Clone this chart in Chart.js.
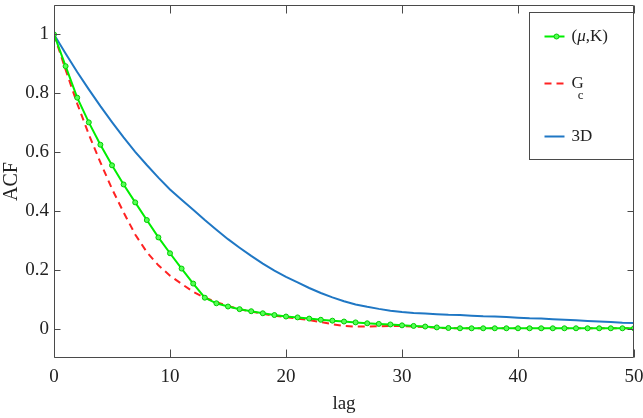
<!DOCTYPE html>
<html>
<head>
<meta charset="utf-8">
<script src="https://cdn.jsdelivr.net/npm/chart.js@4.4.0/dist/chart.umd.min.js"></script>
<style>
    html, body { margin: 0; padding: 0; background: #ffffff; }
    #wrap { width: 643px; height: 418px; }
</style>
</head>
<body>
<div id="wrap"><canvas id="acfChart"></canvas></div>
<script>
// lag values (x axis)
const lags = [0, 1, 2, 3, 4, 5, 6, 7, 8, 9, 10, 11, 12, 13, 14, 15, 16, 17, 18, 19, 20,
    21, 22, 23, 24, 25, 26, 27, 28, 29, 30, 31, 32, 33, 34, 35, 36, 37, 38, 39, 40,
    41, 42, 43, 44, 45, 46, 47, 48, 49, 50];

// ACF of (mu,K) model
const acfMuK = [1, 0.892, 0.785, 0.701, 0.625, 0.555, 0.490, 0.429, 0.369, 0.310, 0.256,
    0.204, 0.153, 0.105, 0.086, 0.075, 0.066, 0.059, 0.052, 0.046, 0.041,
    0.038, 0.034, 0.030, 0.027, 0.024, 0.021, 0.018, 0.016, 0.014, 0.011,
    0.009, 0.007, 0.004, 0.002, 0.001, 0.001, 0.001, 0.001, 0.001, 0.001,
    0.001, 0.001, 0.001, 0.001, 0.001, 0.001, 0.001, 0.001, 0.001, 0.001];

// ACF of Gc
const acfGc = [1, 0.880, 0.765, 0.660, 0.565, 0.475, 0.395, 0.320, 0.260, 0.215, 0.180,
    0.152, 0.125, 0.105, 0.090, 0.077, 0.066, 0.058, 0.050, 0.044, 0.039,
    0.034, 0.029, 0.022, 0.015, 0.009, 0.007, 0.007, 0.008, 0.009, 0.009,
    0.007, 0.005, 0.003, 0.001, 0.001, 0.001, 0.001, 0.001, 0.001, 0.001,
    0.001, 0.001, 0.001, 0.001, 0.001, 0.001, 0.001, 0.001, 0.001, 0.001];

// ACF of 3D
const acf3D = [1, 0.935, 0.872, 0.813, 0.756, 0.702, 0.650, 0.601, 0.556, 0.513, 0.473,
    0.438, 0.404, 0.369, 0.336, 0.304, 0.275, 0.247, 0.221, 0.197, 0.176,
    0.157, 0.138, 0.121, 0.106, 0.093, 0.082, 0.074, 0.067, 0.061, 0.056,
    0.053, 0.051, 0.049, 0.047, 0.046, 0.044, 0.042, 0.041, 0.039, 0.037,
    0.035, 0.034, 0.032, 0.030, 0.028, 0.026, 0.024, 0.022, 0.020, 0.019];

const seriesLabels = ['(μ,K)', 'G_c', '3D'];
const xTicks = [0, 10, 20, 30, 40, 50];
const yTicks = [0, 0.2, 0.4, 0.6, 0.8, 1];

const serif = "'Liberation Serif', 'DejaVu Serif', serif";
const axisColor = '#4a4a4a';
const textColor = '#222222';

function toPoints(values) {
    return lags.map((lag, i) => ({ x: lag, y: values[i] }));
}

// draws a label with italic mu and "_" subscripts
function drawRichLabel(ctx, label, x, y) {
    let cx = x;
    let i = 0;
    ctx.textBaseline = 'middle';
    ctx.textAlign = 'left';
    while (i < label.length) {
        const ch = label[i];
        if (ch === '_') {
            ctx.font = '13px ' + serif;
            ctx.fillText(label[i + 1], cx - 6, y + 12);
            i += 2;
            continue;
        }
        ctx.font = (ch === 'μ' ? 'italic ' : '') + '17px ' + serif;
        ctx.fillText(ch, cx, y);
        cx += ctx.measureText(ch).width;
        i++;
    }
}

const matlabAxes = {
    id: 'matlabAxes',
    afterDatasetsDraw(chart) {
        const ctx = chart.ctx;
        const area = chart.chartArea;
        const xs = chart.scales.x;
        const ys = chart.scales.y;
        const left = Math.round(area.left) + 0.5;
        const right = Math.round(area.right) - 0.5;
        const top = Math.round(area.top) + 0.5;
        const bottom = Math.round(area.bottom) - 0.5;

        ctx.save();
        ctx.strokeStyle = axisColor;
        ctx.lineWidth = 1;
        ctx.beginPath();
        ctx.rect(left, top, right - left, bottom - top);
        // inward ticks on all four sides
        xs.ticks.forEach(t => {
            const px = Math.round(xs.getPixelForValue(t.value)) + 0.5;
            ctx.moveTo(px, bottom); ctx.lineTo(px, bottom - 8);
            ctx.moveTo(px, top); ctx.lineTo(px, top + 8);
        });
        ys.ticks.forEach(t => {
            const py = Math.round(ys.getPixelForValue(t.value)) + 0.5;
            ctx.moveTo(left, py); ctx.lineTo(left + 6, py);
            ctx.moveTo(right, py); ctx.lineTo(right - 6, py);
        });
        ctx.stroke();

        // legend box inside the top right corner
        const lw = 104, lh = 147;
        const lx = right - lw;
        const ly = top + 7;
        ctx.fillStyle = '#ffffff';
        ctx.fillRect(lx, ly, lw, lh);
        ctx.strokeRect(lx, ly, lw, lh);
        const rowY = [ly + 24, ly + 71, ly + 124];
        chart.data.datasets.forEach((ds, i) => {
            const y = rowY[i];
            ctx.save();
            ctx.strokeStyle = ds.borderColor;
            ctx.lineWidth = ds.borderWidth;
            ctx.setLineDash(ds.borderDash || []);
            ctx.beginPath();
            ctx.moveTo(lx + 15, y);
            ctx.lineTo(lx + 35, y);
            ctx.stroke();
            if (ds.pointRadius > 0) {
                ctx.setLineDash([]);
                ctx.beginPath();
                ctx.arc(lx + 27, y, ds.pointRadius, 0, Math.PI * 2);
                ctx.fillStyle = ds.pointBackgroundColor;
                ctx.fill();
                ctx.strokeStyle = ds.pointBorderColor;
                ctx.lineWidth = ds.pointBorderWidth;
                ctx.stroke();
            }
            ctx.restore();
            ctx.fillStyle = textColor;
            drawRichLabel(ctx, ds.label, lx + 42, y);
        });
        ctx.restore();
    }
};

new Chart(document.getElementById('acfChart').getContext('2d'), {
    type: 'line',
    data: {
        datasets: [{
            label: seriesLabels[0],
            data: toPoints(acfMuK),
            borderColor: '#00ee00',
            borderWidth: 2,
            pointRadius: 2.5,
            pointBorderWidth: 1,
            pointBackgroundColor: '#55ff55',
            pointBorderColor: '#00cc00',
            tension: 0
        }, {
            label: seriesLabels[1],
            data: toPoints(acfGc),
            borderColor: '#ff2222',
            borderWidth: 2,
            borderDash: [7, 5],
            pointRadius: 0,
            tension: 0
        }, {
            label: seriesLabels[2],
            data: toPoints(acf3D),
            borderColor: '#1f77c4',
            borderWidth: 2,
            pointRadius: 0,
            tension: 0
        }]
    },
    options: {
        responsive: true,
        maintainAspectRatio: false,
        animation: false,
        layout: {
            padding: { top: 2, right: 9, left: 0, bottom: 0 }
        },
        plugins: {
            legend: { display: false },
            tooltip: { enabled: false }
        },
        scales: {
            x: {
                type: 'linear',
                min: 0,
                max: 50,
                afterBuildTicks: function (scale) {
                    scale.ticks = xTicks.map(v => ({ value: v }));
                },
                afterFit: function (scale) {
                    scale.height = 60;
                    scale.paddingLeft = 0;
                    scale.paddingRight = 0;
                },
                grid: { display: false, drawTicks: false },
                border: { display: false },
                ticks: {
                    padding: 8,
                    maxRotation: 0,
                    color: textColor,
                    font: { family: serif, size: 19 }
                },
                title: {
                    display: true,
                    text: 'lag',
                    color: textColor,
                    font: { family: serif, size: 19 },
                    padding: { top: 0, bottom: 3 }
                }
            },
            y: {
                min: -0.1,
                max: 1.1,
                afterBuildTicks: function (scale) {
                    scale.ticks = yTicks.map(v => ({ value: v }));
                },
                afterFit: function (scale) {
                    scale.width = 54;
                    scale.paddingTop = 0;
                    scale.paddingBottom = 0;
                },
                grid: { display: false, drawTicks: false },
                border: { display: false },
                ticks: {
                    padding: 5,
                    color: textColor,
                    font: { family: serif, size: 19 },
                    callback: function (value) {
                        return String(Math.round(value * 10) / 10);
                    }
                },
                title: {
                    display: true,
                    text: 'ACF',
                    color: textColor,
                    font: { family: serif, size: 20 },
                    padding: { top: 0, bottom: 0 }
                }
            }
        }
    },
    plugins: [matlabAxes]
});
</script>
</body>
</html>
